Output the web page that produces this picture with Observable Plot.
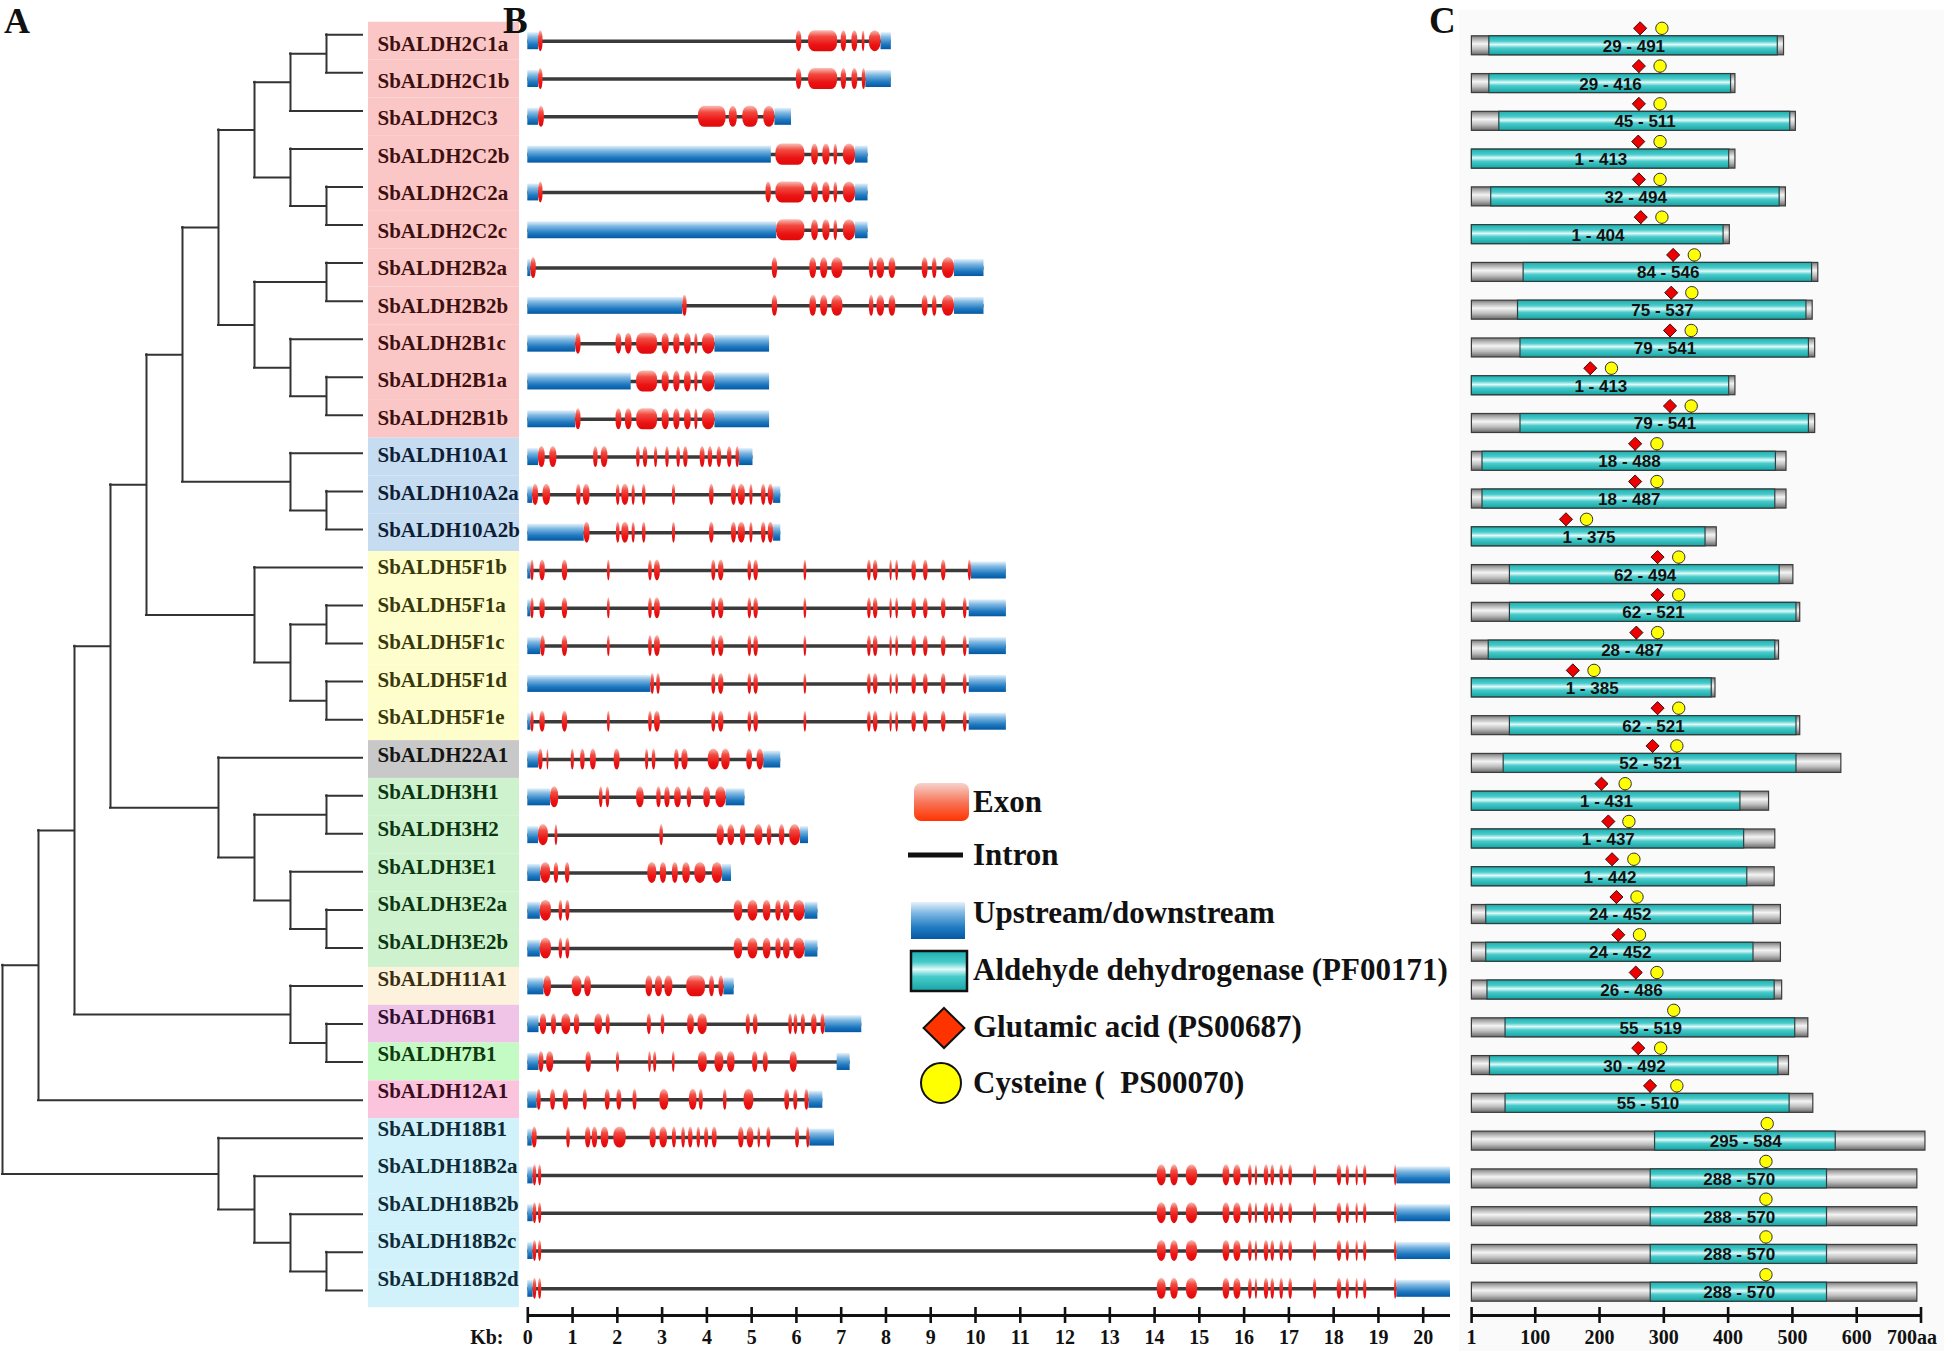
<!DOCTYPE html>
<html>
<head>
<meta charset="utf-8">
<script src="https://cdn.jsdelivr.net/npm/d3@7"></script>
<script src="https://cdn.jsdelivr.net/npm/@observablehq/plot@0.6"></script>
<style>
html,body{margin:0;padding:0;background:#fff;}
#fig{position:relative;width:1944px;height:1351px;overflow:hidden;background:#fff;}
#fig > svg{position:absolute;left:0;top:0;max-width:none;overflow:visible;}
#panelCbg{position:absolute;left:1459px;top:10px;width:485px;height:1341px;background:#fafafa;}
</style>
</head>
<body>
<div id="fig"><div id="panelCbg"></div></div>
<script>
const W = 1944, H = 1351;
const SERIF = "'Liberation Serif','Times New Roman',serif";
const SANS = "'Liberation Sans',Arial,sans-serif";

// ---------------- data ----------------
const genes = [
  "SbALDH2C1a","SbALDH2C1b","SbALDH2C3","SbALDH2C2b","SbALDH2C2a","SbALDH2C2c",
  "SbALDH2B2a","SbALDH2B2b","SbALDH2B1c","SbALDH2B1a","SbALDH2B1b",
  "SbALDH10A1","SbALDH10A2a","SbALDH10A2b",
  "SbALDH5F1b","SbALDH5F1a","SbALDH5F1c","SbALDH5F1d","SbALDH5F1e",
  "SbALDH22A1",
  "SbALDH3H1","SbALDH3H2","SbALDH3E1","SbALDH3E2a","SbALDH3E2b",
  "SbALDH11A1","SbALDH6B1","SbALDH7B1","SbALDH12A1",
  "SbALDH18B1","SbALDH18B2a","SbALDH18B2b","SbALDH18B2c","SbALDH18B2d"];

const families   = ["2","10","5","22","3","11","6","7","12","18"];
const familyFill = ["#fbc6c6","#c6dcf0","#fefecc","#c8c8c8","#cdf2cd","#fdf3dc","#f0c4e6","#c4fbc4","#fbc4dc","#d1f1fb"];
const familyText = ["#3d1010","#0f1d36","#38380c","#141414","#0c3512","#3a2e12","#2e0e2e","#0e3a0e","#3a0e1e","#0e2a36"];

// phylogeny (number after a clade = depth level of that node, leaves are at level 10)
const clade2  = "((((SbALDH2C1a,SbALDH2C1b)9,SbALDH2C3)8,(SbALDH2C2b,(SbALDH2C2a,SbALDH2C2c)9)8)7,((SbALDH2B2a,SbALDH2B2b)9,(SbALDH2B1c,(SbALDH2B1a,SbALDH2B1b)9)8)7)6";
const clade10 = "(SbALDH10A1,(SbALDH10A2a,SbALDH10A2b)9)8";
const clade5  = "(SbALDH5F1b,((SbALDH5F1a,SbALDH5F1c)9,(SbALDH5F1d,SbALDH5F1e)9)8)7";
const clade3  = "((SbALDH3H1,SbALDH3H2)9,(SbALDH3E1,(SbALDH3E2a,SbALDH3E2b)9)8)7";
const clade11_6_7 = "(SbALDH11A1,(SbALDH6B1,SbALDH7B1)9)8";
const clade18 = "(SbALDH18B1,(SbALDH18B2a,(SbALDH18B2b,(SbALDH18B2c,SbALDH18B2d)9)8)7)6";
const treeNewick = `((((((${clade2},${clade10})5,${clade5})4,(SbALDH22A1,${clade3})6)3,${clade11_6_7})2,SbALDH12A1)1,${clade18})0`;

// gene structures (kb)
const geneLen = [8.12,8.12,5.89,7.60,7.60,7.60,10.19,10.19,5.40,5.40,5.40,5.03,5.65,5.65,
  10.69,10.69,10.69,10.69,10.69,5.65,4.85,6.27,4.55,6.48,6.48,4.61,7.46,7.20,6.59,6.85,
  20.61,20.61,20.61,20.61];
const geneUtr = [
  "0-0.24 7.89-8.12","0-0.24 7.55-8.12","0-0.24 5.52-5.89","0-5.44 7.32-7.60","0-0.24 7.32-7.60","0-5.56 7.32-7.60",
  "0-0.07 9.53-10.19","0-3.46 9.53-10.19","0-1.07 4.18-5.40","0-2.31 4.18-5.40","0-1.07 4.18-5.40",
  "0-0.24 4.73-5.03","0-0.11 5.49-5.65","0-1.26 5.49-5.65",
  "0-0.07 9.91-10.69","0-0.07 9.86-10.69","0-0.29 9.86-10.69","0-2.75 9.86-10.69","0-0.07 9.86-10.69",
  "0-0.24 5.27-5.65",
  "0-0.51 4.43-4.85","0-0.24 6.09-6.27","0-0.29 4.35-4.55","0-0.28 6.19-6.48","0-0.28 6.19-6.48",
  "0-0.36 4.38-4.61","0-0.25 6.64-7.46","0-0.25 6.91-7.20","0-0.21 6.28-6.59",
  "0-0.10 6.30-6.85","0-0.12 19.41-20.61","0-0.12 19.41-20.61","0-0.12 19.41-20.61","0-0.12 19.41-20.61"];
const geneExon = [
  "0.24-0.34 6.00-6.12 6.27-6.92 7.00-7.12 7.24-7.37 7.47-7.53 7.63-7.89",
  "0.24-0.34 6.00-6.12 6.27-6.92 7.00-7.12 7.24-7.37 7.47-7.55",
  "0.24-0.37 3.81-4.43 4.50-4.68 4.80-5.15 5.27-5.52",
  "5.54-6.19 6.34-6.49 6.59-6.75 6.84-6.92 7.05-7.32",
  "0.24-0.34 5.32-5.44 5.54-6.19 6.34-6.49 6.59-6.75 6.84-6.92 7.05-7.32",
  "5.56-6.19 6.34-6.49 6.59-6.75 6.84-6.92 7.05-7.32",
  "0.07-0.19 5.46-5.58 6.30-6.45 6.54-6.70 6.79-7.04 7.63-7.73 7.80-7.97 8.07-8.22 8.81-8.94 9.04-9.14 9.26-9.53",
  "3.46-3.56 5.46-5.58 6.30-6.45 6.54-6.70 6.79-7.04 7.63-7.73 7.80-7.97 8.07-8.22 8.81-8.94 9.04-9.14 9.26-9.53",
  "1.07-1.19 1.97-2.10 2.18-2.33 2.43-2.90 3.00-3.16 3.26-3.40 3.50-3.65 3.73-3.80 3.90-4.18",
  "2.43-2.90 3.00-3.16 3.26-3.40 3.50-3.65 3.73-3.80 3.90-4.18",
  "1.07-1.19 1.97-2.10 2.18-2.33 2.43-2.90 3.00-3.16 3.26-3.40 3.50-3.65 3.73-3.80 3.90-4.18",
  "0.24-0.39 0.49-0.65 1.47-1.57 1.64-1.79 2.43-2.51 2.58-2.68 2.83-2.90 3.08-3.16 3.33-3.41 3.48-3.58 3.85-3.96 4.03-4.13 4.23-4.33 4.46-4.56 4.65-4.73",
  "0.11-0.24 0.34-0.51 1.09-1.19 1.24-1.39 1.98-2.06 2.10-2.26 2.33-2.40 2.56-2.64 3.23-3.30 4.06-4.16 4.55-4.66 4.70-4.86 4.96-5.03 5.22-5.32 5.37-5.49",
  "1.26-1.39 1.98-2.06 2.10-2.26 2.33-2.40 2.56-2.64 3.23-3.30 4.06-4.16 4.55-4.66 4.70-4.86 4.96-5.03 5.22-5.32 5.37-5.49",
  "0.07-0.14 0.27-0.39 0.77-0.89 1.78-1.84 2.70-2.78 2.83-2.96 4.11-4.20 4.26-4.38 4.92-5.00 5.05-5.15 6.17-6.23 7.59-7.67 7.72-7.82 8.09-8.14 8.22-8.28 8.58-8.68 8.84-8.94 9.24-9.34 9.84-9.91",
  "0.07-0.14 0.27-0.39 0.77-0.89 1.78-1.84 2.70-2.78 2.83-2.96 4.11-4.20 4.26-4.38 4.92-5.00 5.05-5.15 6.17-6.23 7.59-7.67 7.72-7.82 8.09-8.14 8.22-8.28 8.58-8.68 8.84-8.94 9.24-9.34 9.73-9.81",
  "0.29-0.39 0.77-0.89 1.78-1.84 2.70-2.78 2.83-2.96 4.11-4.20 4.26-4.38 4.92-5.00 5.05-5.15 6.17-6.23 7.59-7.67 7.72-7.82 8.09-8.14 8.22-8.28 8.58-8.68 8.84-8.94 9.24-9.34 9.73-9.81",
  "2.75-2.83 2.88-2.96 4.11-4.20 4.26-4.38 4.92-5.00 5.05-5.15 6.17-6.23 7.59-7.67 7.72-7.82 8.09-8.14 8.22-8.28 8.58-8.68 8.84-8.94 9.24-9.34 9.73-9.81",
  "0.07-0.14 0.27-0.39 0.77-0.89 1.78-1.84 2.70-2.78 2.83-2.96 4.11-4.20 4.26-4.38 4.92-5.00 5.05-5.15 6.17-6.23 7.59-7.67 7.72-7.82 8.09-8.14 8.22-8.28 8.58-8.68 8.84-8.94 9.24-9.34 9.73-9.81",
  "0.24-0.34 0.43-0.47 0.97-1.04 1.18-1.28 1.40-1.53 1.93-2.06 2.63-2.70 2.78-2.86 3.28-3.38 3.44-3.58 4.03-4.28 4.33-4.52 4.89-5.02 5.12-5.27",
  "0.51-0.69 1.60-1.68 1.75-1.83 2.43-2.60 2.88-2.98 3.06-3.18 3.28-3.43 3.56-3.66 3.93-4.08 4.20-4.43",
  "0.24-0.46 0.61-0.67 2.95-3.03 4.23-4.39 4.47-4.62 4.75-4.87 5.07-5.25 5.35-5.45 5.62-5.74 5.85-6.09",
  "0.29-0.51 0.59-0.69 0.84-0.94 2.68-2.88 2.96-3.10 3.23-3.36 3.46-3.63 3.73-3.98 4.12-4.35",
  "0.28-0.53 0.70-0.78 0.85-0.94 4.61-4.80 4.92-5.14 5.26-5.43 5.54-5.66 5.71-5.86 5.94-6.19",
  "0.28-0.53 0.70-0.78 0.85-0.94 4.61-4.80 4.92-5.14 5.26-5.43 5.54-5.66 5.71-5.86 5.94-6.19",
  "0.36-0.53 0.99-1.21 1.27-1.42 2.64-2.79 2.85-3.01 3.06-3.24 3.55-3.97 4.06-4.17 4.27-4.38",
  "0.28-0.42 0.53-0.64 0.76-0.96 1.04-1.16 1.50-1.67 1.75-1.84 2.67-2.76 2.98-3.06 3.57-3.72 3.80-4.01 4.88-4.97 5.04-5.14 5.83-5.91 5.95-6.03 6.11-6.20 6.34-6.46 6.55-6.64",
  "0.25-0.36 0.42-0.58 1.30-1.42 1.98-2.05 2.70-2.76 2.81-2.88 3.23-3.29 3.81-4.01 4.18-4.38 4.46-4.63 5.02-5.14 5.26-5.37 5.86-6.02",
  "0.21-0.30 0.51-0.62 0.79-0.91 1.24-1.33 1.73-1.84 1.99-2.10 2.35-2.44 2.95-3.15 3.61-3.78 3.83-3.92 4.37-4.45 4.83-5.05 5.74-5.85 5.94-6.03 6.19-6.28",
  "0.10-0.21 0.87-0.95 1.29-1.41 1.44-1.56 1.64-1.81 1.92-2.20 2.73-2.87 2.95-3.12 3.23-3.32 3.44-3.52 3.59-3.69 3.78-3.86 3.95-4.04 4.12-4.23 4.71-4.83 4.90-5.05 5.14-5.20 5.34-5.43 5.98-6.07 6.23-6.30",
  "0.12-0.20 0.24-0.31 14.06-14.26 14.36-14.53 14.71-14.96 15.53-15.68 15.77-15.93 16.10-16.18 16.25-16.30 16.45-16.55 16.60-16.68 16.80-16.88 17.00-17.08 17.55-17.62 18.08-18.18 18.28-18.35 18.50-18.55 18.67-18.74 19.36-19.41",
  "0.12-0.20 0.24-0.31 14.06-14.26 14.36-14.53 14.71-14.96 15.53-15.68 15.77-15.93 16.10-16.18 16.25-16.30 16.45-16.55 16.60-16.68 16.80-16.88 17.00-17.08 17.55-17.62 18.08-18.18 18.28-18.35 18.50-18.55 18.67-18.74 19.36-19.41",
  "0.12-0.20 0.24-0.31 14.06-14.26 14.36-14.53 14.71-14.96 15.53-15.68 15.77-15.93 16.10-16.18 16.25-16.30 16.45-16.55 16.60-16.68 16.80-16.88 17.00-17.08 17.55-17.62 18.08-18.18 18.28-18.35 18.50-18.55 18.67-18.74 19.36-19.41",
  "0.12-0.20 0.24-0.31 14.06-14.26 14.36-14.53 14.71-14.96 15.53-15.68 15.77-15.93 16.10-16.18 16.25-16.30 16.45-16.55 16.60-16.68 16.80-16.88 17.00-17.08 17.55-17.62 18.08-18.18 18.28-18.35 18.50-18.55 18.67-18.74 19.36-19.41"];
const kbTicks = [0,1,2,3,4,5,6,7,8,9,10,11,12,13,14,15,16,17,18,19,20];

// protein structures (aa)
const protLen  = [501,423,520,423,504,414,556,547,551,423,551,505,505,393,516,527,493,391,527,593,477,487,486,496,496,498,540,509,548,728,715,715,715,715];
const domStart = [29,29,45,1,32,1,84,75,79,1,79,18,18,1,62,62,28,1,62,52,1,1,1,24,24,26,55,30,55,295,288,288,288,288];
const domEnd   = [491,416,511,413,494,404,546,537,541,413,541,488,487,375,494,521,487,385,521,521,431,437,442,452,452,486,519,492,510,584,570,570,570,570];
const gluSite  = [270,268,268,267,268,271,323,320,318,190,318,262,262,151,298,298,264,162,298,290,208,219,225,232,235,263,null,267,286,null,null,null,null,null];
const cysSite  = [305,302,302,302,302,305,357,353,352,224,352,297,297,184,332,332,298,196,332,329,246,252,260,265,269,297,324,303,329,474,472,472,472,472];
const aaTicks  = [1,100,200,300,400,500,600,700];
const aaTickLabels = ["1","100","200","300","400","500","600","700aa"];

const legendLabels = ["Exon","Intron","Upstream/downstream","Aldehyde dehydrogenase (PF00171)","Glutamic acid (PS00687)","Cysteine (  PS00070)"];

// ---------------- derived tables ----------------
const famOf = name => families.indexOf(name.match(/ALDH(\d+)/)[1]);
const rows = genes.map((name, i) => ({name, i, fam: famOf(name), len: geneLen[i]}));
const parseSegs = (s, i) => s.trim().split(/\s+/).map(p => { const [a, b] = p.split("-").map(Number); return {i, x1: a, x2: b}; });
const utrs = geneUtr.flatMap((s, i) => parseSegs(s, i));
const exons = geneExon.flatMap((s, i) => parseSegs(s, i));
const prots = genes.map((name, i) => ({i, len: protLen[i], s: domStart[i], e: domEnd[i], glu: gluSite[i], cys: cysSite[i]}));

function parseNewick(s) {
  let k = 0;
  function node() {
    if (s[k] === "(") {
      k++;
      const children = [node()];
      while (s[k] === ",") { k++; children.push(node()); }
      k++;
      let lab = "";
      while (k < s.length && /[0-9.]/.test(s[k])) lab += s[k++];
      return {children, level: +lab};
    }
    let name = "";
    while (k < s.length && !/[,()]/.test(s[k])) name += s[k++];
    return {name, level: 10};
  }
  return node();
}
const vLines = [], hLines = [];
(function layout(n) {
  if (!n.children) { n.y = genes.indexOf(n.name); return; }
  n.children.forEach(layout);
  const a = n.children[0].y, b = n.children[n.children.length - 1].y;
  n.y = (a + b) / 2;
  vLines.push({x: n.level, y1: a, y2: b});
  n.children.forEach(c => hLines.push({y: c.y, x1: n.level, x2: c.level}));
})(parseNewick(treeNewick));

// ---------------- drawing ----------------
const fig = document.getElementById("fig");
fig.insertAdjacentHTML("beforeend", `
<svg width="0" height="0" style="position:absolute;left:0;top:0">
<defs>
 <linearGradient id="gExon" x1="0" y1="0" x2="0" y2="1">
  <stop offset="0" stop-color="#f8c0b8"/><stop offset="0.3" stop-color="#f24a40"/>
  <stop offset="0.7" stop-color="#ea1212"/><stop offset="1" stop-color="#e00a0a"/>
 </linearGradient>
 <linearGradient id="gUtr" x1="0" y1="0" x2="0" y2="1">
  <stop offset="0" stop-color="#e6f2fb"/><stop offset="0.3" stop-color="#7db7e2"/>
  <stop offset="0.7" stop-color="#1f79c0"/><stop offset="1" stop-color="#0458a3"/>
 </linearGradient>
 <linearGradient id="gGrey" x1="0" y1="0" x2="0" y2="1">
  <stop offset="0" stop-color="#777"/><stop offset="0.15" stop-color="#aaa"/>
  <stop offset="0.42" stop-color="#f4f4f4"/><stop offset="0.7" stop-color="#bdbdbd"/>
  <stop offset="1" stop-color="#686868"/>
 </linearGradient>
 <linearGradient id="gCyan" x1="0" y1="0" x2="0" y2="1">
  <stop offset="0" stop-color="#1eaeae"/><stop offset="0.28" stop-color="#48cbcb"/>
  <stop offset="0.46" stop-color="#e2fafa"/><stop offset="0.64" stop-color="#48cbcb"/>
  <stop offset="1" stop-color="#17a4a4"/>
 </linearGradient>
 <linearGradient id="gExonL" x1="0" y1="0" x2="0" y2="1">
  <stop offset="0" stop-color="#f6d3cc"/><stop offset="0.5" stop-color="#f8765a"/>
  <stop offset="1" stop-color="#ff3300"/>
 </linearGradient>
</defs></svg>`);

function layer(opts) {
  const svg = Plot.plot(Object.assign({
    width: W, height: H, margin: 0,
    style: {background: "transparent", overflow: "visible"}
  }, opts));
  svg.style.position = "absolute"; svg.style.left = "0"; svg.style.top = "0"; svg.style.maxWidth = "none";
  fig.appendChild(svg);
  return svg;
}

// A: tree
layer({
  x: {domain: [0, 10], range: [2, 362], axis: null},
  y: {domain: [0, 33], range: [34.3, 1289.9], axis: null},
  marks: [
    Plot.ruleY(hLines, {y: "y", x1: "x1", x2: "x2", stroke: "#333", strokeWidth: 2, strokeLinecap: "square"}),
    Plot.ruleX(vLines, {x: "x", y1: "y1", y2: "y2", stroke: "#333", strokeWidth: 2, strokeLinecap: "square"})
  ]
});

// label boxes
layer({
  x: {domain: [0, 1], range: [368, 519], axis: null},
  y: {domain: [0, 33], range: [40.7, 1288.3], axis: null},
  color: {type: "identity"},
  marks: [
    Plot.rect(rows, {x1: () => 0, x2: () => 1, y1: d => d.i - 0.5, y2: d => d.i + 0.5, fill: d => familyFill[d.fam]})
  ]
});
// label text
layer({
  x: {domain: [0, 1], range: [368, 519], axis: null},
  y: {domain: [0, 33], range: [43.3, 1278.3], axis: null},
  color: {type: "identity"},
  marks: [
    Plot.text(rows, {x: () => 0, y: "i", text: "name", dx: 9, textAnchor: "start",
      fill: d => familyText[d.fam], fontFamily: SERIF, fontWeight: "bold", fontSize: 21})
  ]
});

// B: gene structures
layer({
  x: {domain: [0, 20], range: [527.3, 1422.7], axis: null},
  y: {domain: [0, 33], range: [40.7, 1288.3], axis: null},
  marks: [
    Plot.ruleY(rows, {y: "i", x1: () => 0, x2: "len", stroke: "#3a3a3a", strokeWidth: 3.5}),
    Plot.rect(utrs, {x1: "x1", x2: "x2", y1: d => d.i - 0.225, y2: d => d.i + 0.225, fill: "url(#gUtr)"}),
    Plot.rect(exons, {x1: "x1", x2: "x2", y1: d => d.i - 0.278, y2: d => d.i + 0.278, fill: "url(#gExon)", rx: 6, ry: 9})
  ]
});
// B axis
layer({
  x: {domain: [0, 20], range: [527.3, 1422.7], axis: null},
  y: {domain: [0, 1], range: [1307, 1323], axis: null},
  marks: [
    Plot.ruleY([0.5], {y: d => d, x1: () => 0, x2: () => 20.61, stroke: "#111", strokeWidth: 3}),
    Plot.ruleX(kbTicks, {x: d => d, y1: () => 0, y2: () => 1, stroke: "#111", strokeWidth: 2.6}),
    Plot.text(kbTicks, {x: d => d, y: () => 1, dy: 14, text: d => String(d), fill: "#111",
      fontFamily: SERIF, fontWeight: "bold", fontSize: 20}),
    Plot.text(["Kb:"], {x: () => 0, y: () => 1, dy: 14, dx: -41, text: d => d, fill: "#111",
      fontFamily: SERIF, fontWeight: "bold", fontSize: 20})
  ]
});

// C: protein domains
layer({
  x: {domain: [0, 700], range: [1471.4, 1907.5], axis: null},
  y: {domain: [0, 33], range: [45.3, 1291.7], axis: null},
  marks: [
    Plot.ruleX(prots.filter(d => d.glu != null), {x: "glu", y1: d => d.i - 0.33, y2: d => d.i - 0.25, stroke: "#333", strokeWidth: 1.2}),
    Plot.ruleX(prots, {x: "cys", y1: d => d.i - 0.33, y2: d => d.i - 0.25, stroke: "#333", strokeWidth: 1.2}),
    Plot.rect(prots, {x1: () => 0, x2: "len", y1: d => d.i - 0.2515, y2: d => d.i + 0.2515,
      fill: "url(#gGrey)", stroke: "#3c3c3c", strokeWidth: 1.2}),
    Plot.rect(prots, {x1: d => d.s - 1, x2: "e", y1: d => d.i - 0.2515, y2: d => d.i + 0.2515,
      fill: "url(#gCyan)", stroke: "#2f3f3f", strokeWidth: 1.2}),
    Plot.text(prots, {x: d => (d.s + d.e) / 2, y: "i", dy: 0.5, text: d => `${d.s} - ${d.e}`, fill: "#111",
      fontFamily: SANS, fontWeight: "bold", fontSize: 17}),
    Plot.dot(prots.filter(d => d.glu != null), {x: "glu", y: "i", dy: -17.5, symbol: "diamond2", r: 5.9,
      fill: "#ee0000", stroke: "#3a1010", strokeWidth: 1}),
    Plot.dot(prots, {x: "cys", y: "i", dy: -17.5, symbol: "circle", r: 6.2,
      fill: "#ffff00", stroke: "#333", strokeWidth: 1})
  ]
});
// C axis
layer({
  x: {domain: [1, 700], range: [1471.1, 1920.5], axis: null},
  y: {domain: [0, 1], range: [1307, 1323], axis: null},
  marks: [
    Plot.ruleY([0.5], {y: d => d, x1: () => 1, x2: () => 700, stroke: "#111", strokeWidth: 3}),
    Plot.ruleX(aaTicks, {x: d => d, y1: () => 0, y2: () => 1, stroke: "#111", strokeWidth: 2.6}),
    Plot.text(aaTicks.slice(0, -1), {x: d => d, y: () => 1, dy: 14, text: (d, j) => aaTickLabels[j], fill: "#111",
      fontFamily: SERIF, fontWeight: "bold", fontSize: 20}),
    Plot.text(aaTicks.slice(-1), {x: d => d, y: () => 1, dy: 14, dx: -34, textAnchor: "start",
      text: () => aaTickLabels[aaTickLabels.length - 1], fill: "#111",
      fontFamily: SERIF, fontWeight: "bold", fontSize: 20})
  ]
});

// legend + panel letters
fig.insertAdjacentHTML("beforeend", `
<svg width="${W}" height="${H}" style="position:absolute;left:0;top:0" font-family="${SERIF.replace(/"/g, "")}" font-weight="bold" fill="#111">
 <text x="4" y="33" font-size="36">A</text>
 <text x="503" y="33" font-size="37">B</text>
 <text x="1429" y="33" font-size="37">C</text>
 <g font-size="31">
  <rect x="914" y="783" width="55" height="38" rx="7" fill="url(#gExonL)"/>
  <text x="973" y="812">${legendLabels[0]}</text>
  <line x1="908" x2="963" y1="855" y2="855" stroke="#111" stroke-width="5"/>
  <text x="973" y="865">${legendLabels[1]}</text>
  <rect x="911" y="902" width="54" height="37" fill="url(#gUtr)"/>
  <text x="973" y="923">${legendLabels[2]}</text>
  <rect x="911" y="951" width="56" height="40" fill="url(#gCyan)" stroke="#111" stroke-width="2.5"/>
  <text x="973" y="980">${legendLabels[3]}</text>
  <path d="M944,1008 L964.4,1028 L944,1048 L923.6,1028Z" fill="#ff3300" stroke="#111" stroke-width="2"/>
  <text x="973" y="1037">${legendLabels[4]}</text>
  <circle cx="941" cy="1083" r="20" fill="#ffff00" stroke="#111" stroke-width="2"/>
  <text x="973" y="1093" style="white-space:pre">${legendLabels[5]}</text>
 </g>
</svg>`);
</script>
</body>
</html>
